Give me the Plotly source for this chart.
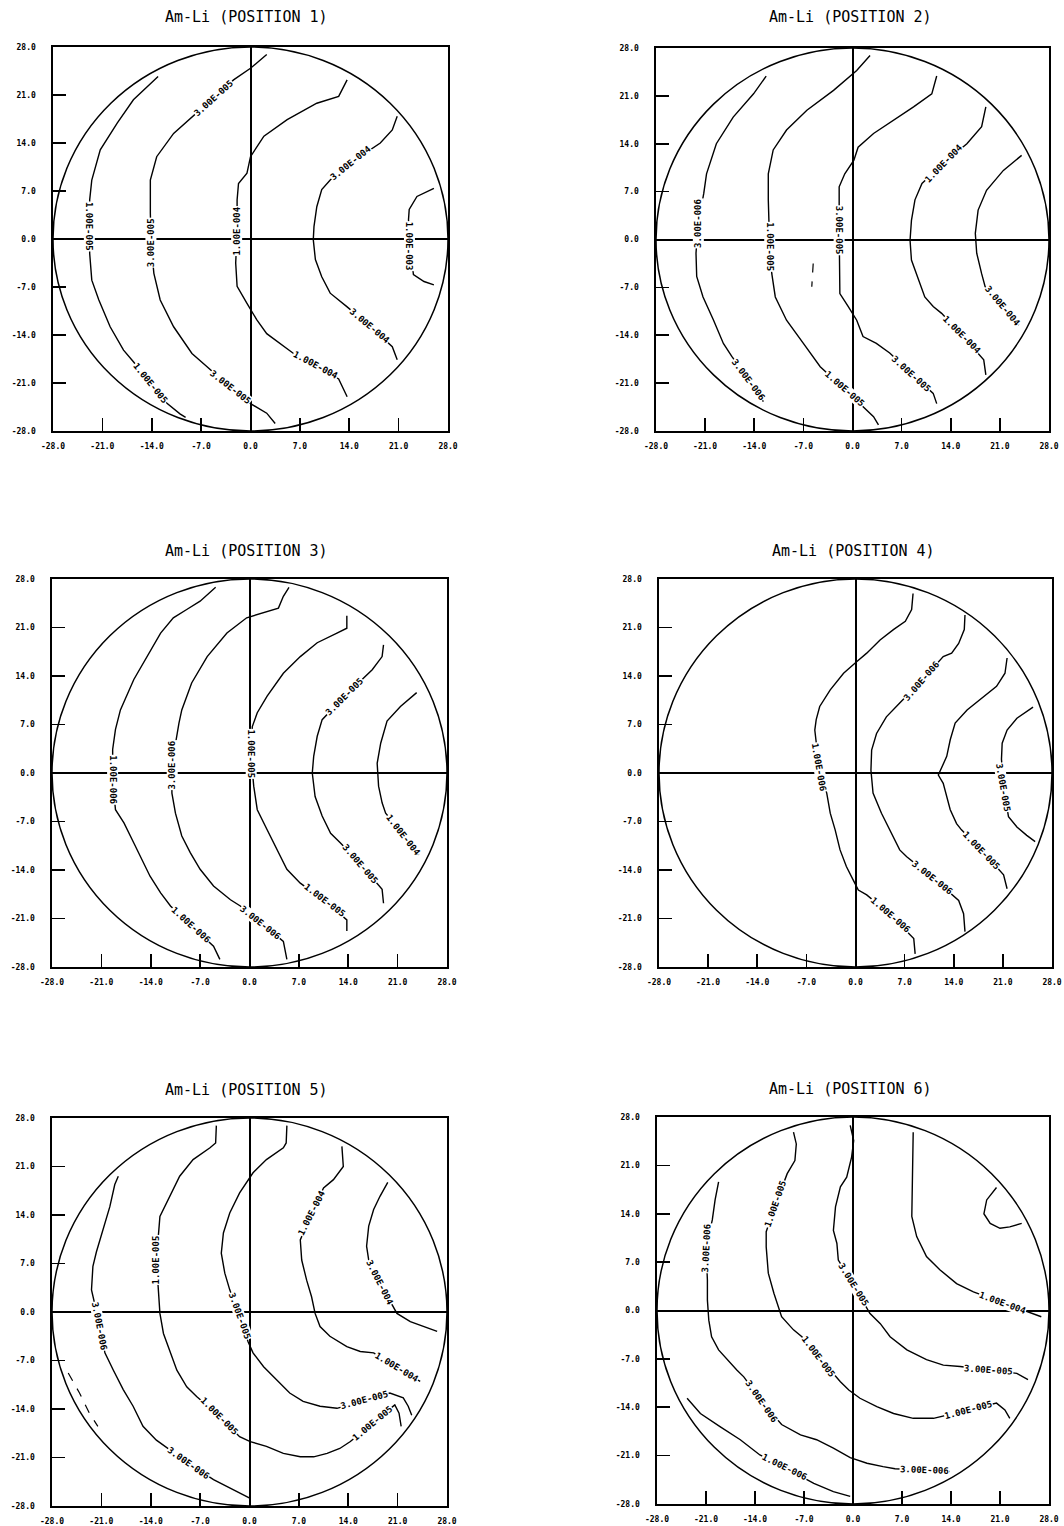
import plotly.graph_objects as go

W, H = 1064, 1526

# ---------------- tick values / labels ----------------
TICK_VALS = [-28, -21, -14, -7, 0, 7, 14, 21, 28]
TICK_TEXT = ['-28.0', '-21.0', '-14.0', '-7.0', '0.0', '7.0', '14.0', '21.0', '28.0']
TITLES = ['Am-Li (POSITION 1)', 'Am-Li (POSITION 2)', 'Am-Li (POSITION 3)',
          'Am-Li (POSITION 4)', 'Am-Li (POSITION 5)', 'Am-Li (POSITION 6)']

# ---------------- panel 1 ----------------
p1_a_x = [-13.1, -16.6, -18.9, -21.3, -22.5, -22.8, -22.8, -22.8, -22.5, -21.5, -19.9, -18.0, -16.6, -14.2, -11.8, -10.0, -9.2]
p1_a_y = [23.7, 20.3, 16.9, 13.0, 8.6, 5.7, 1.8, -2.1, -6.0, -8.9, -12.8, -16.2, -17.9, -21.0, -24.0, -25.5, -26.0]
p1_b_x = [2.3, 0.0, -2.4, -5.2, -8.1, -10.9, -13.3, -14.2, -14.2, -14.1, -13.7, -12.8, -10.9, -8.3, -6.2, -2.9, 0.0, 2.3, 3.5]
p1_b_y = [26.9, 24.9, 23.2, 20.6, 17.9, 15.4, 12.0, 8.6, 3.8, -0.6, -5.0, -8.9, -12.8, -16.7, -18.6, -21.6, -24.0, -25.4, -26.9]
p1_c_x = [13.7, 12.5, 9.4, 5.2, 1.9, 0.0, -0.5, -1.7, -1.9, -1.9, -2.1, -1.9, -0.5, 0.9, 2.3, 4.7, 6.1, 9.2, 12.5, 13.7]
p1_c_y = [23.2, 20.8, 19.8, 17.4, 15.0, 12.0, 9.6, 8.1, 5.7, 1.1, -3.5, -6.9, -9.4, -11.8, -13.8, -15.7, -16.7, -18.4, -20.4, -23.0]
p1_d_x = [20.8, 20.1, 18.4, 14.2, 11.3, 10.1, 9.4, 9.0, 8.9, 9.2, 10.1, 11.3, 13.7, 16.9, 20.1, 20.8]
p1_d_y = [17.9, 15.9, 14.0, 11.1, 8.6, 7.2, 4.7, 1.8, -0.1, -3.0, -5.5, -7.9, -9.9, -12.7, -15.7, -17.6]
p1_e_x = [26.0, 23.6, 22.5, 22.4, 22.6, 23.1, 24.6, 26.0]
p1_e_y = [7.4, 6.2, 4.3, 2.8, -1.1, -5.2, -6.2, -6.7]
p1_lab_text = ['1.00E-005', '1.00E-005', '3.00E-005', '3.00E-005', '3.00E-005',
               '1.00E-004', '1.00E-004', '3.00E-004', '3.00E-004', '1.00E-003']
p1_lab_x = [-22.8, -14.2, -5.2, -14.1, -2.9, -1.9, 9.2, 14.2, 16.9, 22.6]
p1_lab_y = [1.8, -21.0, 20.6, -0.6, -21.6, 1.1, -18.4, 11.1, -12.7, -1.1]
p1_lab_ang = [90, 51, -42, -90, 38, -90, 28, -39, 40, 90]

# ---------------- panel 2 ----------------
p2_a_x = [-12.3, -14.1, -17.0, -19.4, -20.8, -21.2, -22.0, -22.3, -22.2, -21.3, -19.8, -18.4, -17.2, -14.8, -12.7]
p2_a_y = [23.9, 21.3, 17.9, 14.0, 9.6, 6.7, 2.3, -2.0, -5.4, -8.4, -11.8, -15.2, -17.1, -20.5, -23.7]
p2_b_x = [2.5, 0.6, -2.7, -6.5, -9.4, -11.3, -12.0, -12.0, -11.8, -11.5, -11.0, -9.4, -7.0, -4.6, -1.1, 2.0, 3.0, 3.7]
p2_b_y = [26.9, 24.7, 21.8, 18.9, 16.0, 13.1, 9.6, 5.8, -1.1, -5.0, -8.4, -11.8, -15.2, -18.6, -21.9, -24.9, -25.9, -27.1]
p2_c_x = [12.0, 11.3, 8.7, 5.8, 3.0, 0.8, 0.2, -1.1, -1.9, -1.9, -1.9, -1.8, -0.6, 0.6, 1.5, 3.4, 5.3, 8.4, 11.5, 12.0]
p2_c_y = [23.9, 21.3, 19.4, 17.4, 15.5, 13.5, 11.6, 9.6, 7.7, 1.4, -3.5, -7.9, -9.8, -11.8, -14.2, -15.2, -16.6, -19.6, -22.5, -24.0]
p2_d_x = [19.0, 18.4, 16.3, 12.9, 9.9, 8.9, 8.4, 8.2, 8.4, 9.4, 10.3, 11.5, 12.7, 15.6, 18.7, 19.0]
p2_d_y = [19.4, 16.5, 14.0, 11.1, 8.2, 5.8, 2.8, -0.1, -3.0, -5.9, -8.4, -9.8, -10.8, -14.0, -17.6, -19.8]
p2_e_x = [24.1, 21.5, 19.1, 17.9, 17.5, 17.7, 18.4, 18.9, 21.4, 23.7]
p2_e_y = [12.3, 10.1, 7.2, 4.3, 0.9, -2.0, -5.0, -6.9, -9.7, -12.5]
p2_f_x = [-5.6, -5.8]
p2_f_y = [-3.5, -6.9]
p2_lab_text = ['3.00E-006', '3.00E-006', '1.00E-005', '1.00E-005', '3.00E-005',
               '3.00E-005', '1.00E-004', '1.00E-004', '3.00E-004']
p2_lab_x = [-22.0, -14.8, -11.8, -1.1, -1.9, 8.4, 12.9, 15.6, 21.4]
p2_lab_y = [2.3, -20.5, -1.1, -21.9, 1.4, -19.6, 11.1, -14.0, -9.7]
p2_lab_ang = [-90, 53, 90, 41, 90, 42, -46, 45, 50]

# ---------------- panel 3 ----------------
p3_a_x = [-4.8, -7.0, -8.9, -10.8, -12.6, -14.5, -16.4, -18.3, -19.0, -19.4, -19.4, -19.0, -17.8, -16.4, -15.5, -14.1, -12.6, -11.2, -8.3, -5.1, -4.2]
p3_a_y = [26.8, 24.8, 23.6, 22.4, 20.2, 16.8, 13.5, 9.1, 6.3, 3.4, -1.0, -5.3, -7.2, -10.1, -12.0, -14.9, -17.3, -19.2, -22.0, -25.0, -26.9]
p3_b_x = [5.6, 4.8, 4.1, 2.5, -0.4, -3.2, -6.0, -8.2, -9.6, -10.0, -11.0, -11.0, -10.5, -9.6, -8.4, -7.0, -5.1, -2.7, -1.3, 1.6, 4.8, 5.3]
p3_b_y = [26.8, 25.5, 23.8, 23.3, 22.4, 20.2, 16.8, 13.0, 9.1, 7.2, 1.2, -2.9, -5.8, -9.1, -11.5, -13.9, -16.3, -18.3, -19.2, -21.6, -24.3, -26.9]
p3_c_x = [13.8, 13.8, 12.4, 9.6, 7.2, 4.8, 2.5, 1.1, 0.4, 0.2, 0.6, 1.1, 2.5, 3.9, 5.3, 7.2, 10.6, 13.8, 13.8]
p3_c_y = [22.7, 20.9, 20.2, 18.8, 16.8, 14.4, 11.1, 8.7, 6.7, 2.7, -1.9, -5.3, -8.2, -11.1, -13.9, -15.9, -18.4, -21.2, -22.8]
p3_d_x = [19.0, 18.8, 17.4, 13.4, 10.3, 9.6, 9.1, 8.9, 9.3, 10.3, 11.5, 12.9, 15.7, 18.8, 19.0]
p3_d_y = [18.5, 16.8, 14.9, 11.0, 7.7, 5.3, 2.4, 0.0, -3.4, -6.2, -8.7, -10.1, -13.1, -16.8, -18.8]
p3_e_x = [23.7, 21.4, 19.5, 18.6, 18.1, 18.3, 18.8, 19.3, 21.8, 24.0]
p3_e_y = [11.6, 9.6, 7.5, 4.3, 1.4, -1.9, -4.3, -5.8, -8.9, -11.8]
p3_lab_text = ['1.00E-006', '1.00E-006', '3.00E-006', '3.00E-006', '1.00E-005',
               '1.00E-005', '3.00E-005', '3.00E-005', '1.00E-004']
p3_lab_x = [-19.4, -8.3, -11.0, 1.6, 0.2, 10.6, 13.4, 15.7, 21.8]
p3_lab_y = [-1.0, -22.0, 1.2, -21.6, 2.7, -18.4, 11.0, -13.1, -8.9]
p3_lab_ang = [90, 42, -90, 38, 90, 37, -45, 49, 52]

# ---------------- panel 4 ----------------
p4_a_x = [8.2, 8.0, 7.1, 5.4, 3.5, 1.6, 0.2, -1.7, -3.6, -5.1, -5.6, -5.8, -5.2, -4.1, -3.6, -2.9, -2.2, -1.3, -0.3, 0.4, 1.6, 5.0, 8.3, 8.5]
p4_a_y = [25.9, 23.6, 21.9, 20.7, 19.2, 17.3, 16.1, 14.4, 12.0, 9.6, 7.7, 6.2, 0.9, -2.9, -5.8, -8.2, -11.1, -13.5, -15.5, -16.9, -17.6, -20.5, -23.9, -26.1]
p4_b_x = [15.6, 15.5, 14.7, 13.7, 12.5, 9.4, 6.3, 4.4, 3.0, 2.3, 2.2, 2.5, 3.7, 4.9, 6.3, 7.3, 11.0, 14.7, 15.4, 15.6]
p4_b_y = [22.8, 20.7, 18.7, 17.3, 16.8, 13.3, 10.1, 8.1, 5.7, 3.3, 0.4, -2.9, -5.8, -8.2, -11.1, -12.1, -15.1, -18.4, -20.3, -22.9]
p4_c_x = [21.6, 21.3, 20.1, 18.2, 15.9, 14.2, 13.5, 13.0, 12.1, 11.8, 12.5, 13.0, 13.5, 14.4, 15.1, 18.0, 21.1, 21.6]
p4_c_y = [16.6, 14.4, 12.5, 11.0, 9.1, 7.2, 4.8, 2.4, 0.4, -0.3, -1.5, -3.4, -5.3, -7.3, -8.2, -11.2, -14.7, -16.7]
p4_d_x = [25.3, 23.0, 21.6, 20.9, 20.8, 21.1, 21.8, 23.0, 24.4, 25.6]
p4_d_y = [9.5, 7.9, 6.2, 4.3, 2.0, -2.1, -6.3, -7.8, -9.0, -9.9]
p4_lab_text = ['1.00E-006', '1.00E-006', '3.00E-006', '3.00E-006', '1.00E-005', '3.00E-005']
p4_lab_x = [-5.2, 5.0, 9.4, 11.0, 18.0, 21.1]
p4_lab_y = [0.9, -20.5, 13.3, -15.1, -11.2, -2.1]
p4_lab_ang = [80, 41, -49, 38, 46, 80]

# ---------------- panel 5 ----------------
p5_a_x = [-18.6, -19.1, -19.8, -20.8, -21.7, -22.2, -22.4, -21.2, -20.5, -19.3, -17.9, -16.5, -15.1, -13.2, -12.0, -8.7, -5.1, -2.3, 0.1]
p5_a_y = [19.6, 18.4, 15.2, 11.9, 8.7, 6.6, 3.2, -2.1, -5.9, -8.4, -11.2, -13.6, -16.5, -18.5, -19.4, -21.8, -24.2, -25.7, -26.9]
p5_b_x = [-4.7, -4.8, -5.6, -8.0, -9.9, -11.3, -12.7, -13.2, -12.9, -12.7, -12.2, -11.1, -10.3, -8.9, -7.5, -4.3, -1.4, 0.1, 2.4, 4.8, 7.2, 9.1, 11.0, 12.8, 14.3, 17.5, 20.6, 21.2, 21.5]
p5_b_y = [26.9, 24.4, 23.7, 22.0, 19.6, 16.7, 13.8, 7.5, 3.2, -0.2, -3.1, -6.0, -8.4, -10.8, -12.2, -15.0, -18.0, -18.7, -19.4, -20.4, -20.9, -20.9, -20.4, -19.7, -18.7, -16.0, -13.4, -14.6, -16.5]
p5_c_x = [5.3, 5.2, 4.8, 2.4, 0.5, -1.4, -2.8, -3.7, -4.0, -3.5, -2.8, -1.4, -0.2, 0.5, 2.0, 3.9, 5.7, 7.6, 10.0, 12.4, 16.3, 19.9, 21.8, 22.5, 23.0]
p5_c_y = [26.9, 24.4, 23.7, 22.0, 20.1, 17.2, 14.3, 11.4, 8.5, 5.6, 3.2, -0.6, -4.3, -5.9, -7.9, -9.8, -11.7, -12.9, -13.6, -13.9, -12.7, -11.7, -12.4, -13.6, -14.9]
p5_d_x = [13.1, 13.3, 11.9, 10.5, 8.8, 7.2, 7.4, 8.1, 8.8, 9.3, 10.0, 11.4, 13.8, 15.7, 17.6, 20.8, 24.2]
p5_d_y = [23.9, 21.0, 19.1, 17.9, 14.3, 10.4, 7.5, 4.6, 2.2, -0.2, -2.1, -3.5, -5.0, -5.7, -5.9, -8.0, -10.0]
p5_e_x = [19.6, 18.5, 17.6, 16.9, 16.6, 16.9, 18.5, 20.9, 22.8, 24.7, 26.6]
p5_e_y = [18.7, 16.7, 14.8, 12.4, 9.5, 7.5, 4.2, -0.2, -1.4, -2.1, -2.8]
p5_f_x = [-25.7, -24.1, -22.7, -21.5]
p5_f_y = [-8.8, -11.7, -14.6, -16.5]
p5_lab_text = ['3.00E-006', '3.00E-006', '1.00E-005', '1.00E-005', '1.00E-005',
               '3.00E-005', '3.00E-005', '1.00E-004', '1.00E-004', '3.00E-004']
p5_lab_x = [-21.2, -8.7, -13.2, -4.3, 17.5, -1.4, 16.3, 8.8, 20.8, 18.5]
p5_lab_y = [-2.1, -21.8, 7.5, -15.0, -16.0, -0.6, -12.7, 14.3, -8.0, 4.2]
p5_lab_ang = [79, 35, -90, 45, -40, 70, -15, -63, 31, 63]

# ---------------- panel 6 ----------------
p6_a_x = [-23.7, -21.8, -19.0, -16.1, -13.3, -9.8, -5.6, -2.8, -0.4]
p6_a_y = [-12.7, -14.9, -16.8, -18.7, -20.9, -22.7, -25.0, -26.2, -26.9]
p6_b_x = [-19.2, -19.7, -20.1, -21.0, -20.8, -20.8, -20.6, -20.2, -19.2, -18.0, -16.6, -15.6, -13.0, -10.2, -7.5, -5.2, -2.8, -0.4, 2.0, 4.3, 6.0, 10.2, 13.8]
p6_b_y = [18.6, 16.0, 13.1, 9.1, 4.4, 1.5, -1.4, -3.8, -5.7, -7.1, -8.6, -9.6, -13.2, -16.5, -18.0, -18.7, -19.9, -21.3, -22.1, -22.6, -22.9, -23.1, -23.3]
p6_c_x = [-8.5, -8.1, -8.3, -9.4, -11.0, -12.4, -12.4, -12.1, -11.3, -10.2, -8.5, -7.3, -4.9, -1.8, -0.6, 1.0, 3.4, 5.8, 8.6, 11.5, 16.5, 20.5, 21.7, 22.4]
p6_c_y = [25.8, 24.1, 21.7, 19.8, 15.5, 11.4, 9.2, 5.4, 2.5, -0.9, -2.8, -3.8, -6.7, -10.3, -11.5, -12.7, -13.9, -14.9, -15.6, -15.6, -14.4, -13.4, -14.4, -15.6]
p6_d_x = [-0.4, 0.1, -0.2, -0.9, -1.8, -2.5, -2.8, -2.3, -2.1, 0.1, 2.4, 3.9, 5.3, 7.7, 10.5, 12.9, 15.3, 19.3, 23.4, 25.0]
p6_d_y = [26.8, 24.6, 22.2, 19.3, 17.9, 15.0, 11.6, 9.7, 7.3, 3.7, -0.4, -1.9, -3.8, -5.7, -7.1, -7.9, -8.1, -8.6, -9.1, -10.0]
p6_e_x = [8.6, 8.5, 8.4, 8.4, 9.1, 10.5, 12.4, 14.8, 17.2, 21.4, 25.3, 26.9]
p6_e_y = [25.8, 21.7, 16.9, 13.6, 10.7, 7.8, 5.9, 3.9, 2.7, 1.1, -0.4, -0.9]
p6_f_x = [20.5, 19.1, 18.7, 19.6, 21.0, 22.4, 24.1]
p6_f_y = [17.8, 16.0, 14.0, 12.6, 11.9, 12.1, 12.6]
p6_lab_text = ['1.00E-006', '3.00E-006', '3.00E-006', '3.00E-006', '1.00E-005',
               '1.00E-005', '1.00E-005', '3.00E-005', '3.00E-005', '1.00E-004']
p6_lab_x = [-9.8, -21.0, -13.0, 10.2, -11.0, -4.9, 16.5, 0.1, 19.3, 21.4]
p6_lab_y = [-22.7, 9.1, -13.2, -23.1, 15.5, -6.7, -14.4, 3.7, -8.6, 1.1]
p6_lab_ang = [26, -87, 55, 2, -71, 53, -15, 58, 4, 20]

# ---------------- assemble ----------------
panels = [
    dict(solid=[(p1_a_x, p1_a_y), (p1_b_x, p1_b_y), (p1_c_x, p1_c_y), (p1_d_x, p1_d_y), (p1_e_x, p1_e_y)],
         dotted=[], lab=(p1_lab_text, p1_lab_x, p1_lab_y, p1_lab_ang)),
    dict(solid=[(p2_a_x, p2_a_y), (p2_b_x, p2_b_y), (p2_c_x, p2_c_y), (p2_d_x, p2_d_y), (p2_e_x, p2_e_y)],
         dotted=[(p2_f_x, p2_f_y)], lab=(p2_lab_text, p2_lab_x, p2_lab_y, p2_lab_ang)),
    dict(solid=[(p3_a_x, p3_a_y), (p3_b_x, p3_b_y), (p3_c_x, p3_c_y), (p3_d_x, p3_d_y), (p3_e_x, p3_e_y)],
         dotted=[], lab=(p3_lab_text, p3_lab_x, p3_lab_y, p3_lab_ang)),
    dict(solid=[(p4_a_x, p4_a_y), (p4_b_x, p4_b_y), (p4_c_x, p4_c_y), (p4_d_x, p4_d_y)],
         dotted=[], lab=(p4_lab_text, p4_lab_x, p4_lab_y, p4_lab_ang)),
    dict(solid=[(p5_a_x, p5_a_y), (p5_b_x, p5_b_y), (p5_c_x, p5_c_y), (p5_d_x, p5_d_y), (p5_e_x, p5_e_y)],
         dotted=[(p5_f_x, p5_f_y)], lab=(p5_lab_text, p5_lab_x, p5_lab_y, p5_lab_ang)),
    dict(solid=[(p6_a_x, p6_a_y), (p6_b_x, p6_b_y), (p6_c_x, p6_c_y), (p6_d_x, p6_d_y), (p6_e_x, p6_e_y), (p6_f_x, p6_f_y)],
         dotted=[], lab=(p6_lab_text, p6_lab_x, p6_lab_y, p6_lab_ang)),
]

# plot-area boxes in pixels: (left, right, top, bottom)
BOXES = [(53, 448, 47, 431), (656, 1049, 48, 431),
         (52, 447, 579, 967), (659, 1052, 579, 967),
         (52, 447, 1118, 1506), (657, 1049, 1117, 1504)]
TITLE_POS = [(246, 17), (850, 17), (246, 551), (853, 551), (246, 1090), (850, 1089)]

fig = go.Figure()
layout = dict(width=W, height=H, margin=dict(l=0, r=0, t=0, b=0, autoexpand=False),
              paper_bgcolor='white', plot_bgcolor='white', showlegend=False)
annotations = []
shapes = []
MONO = 'DejaVu Sans Mono'

for i, (p, box) in enumerate(zip(panels, BOXES)):
    n = i + 1
    xa, ya = ('x' if n == 1 else f'x{n}'), ('y' if n == 1 else f'y{n}')
    l, r, t, b = box
    common = dict(range=[-28, 28], tickmode='array', tickvals=TICK_VALS, ticktext=TICK_TEXT,
                  ticks='inside', ticklen=13, tickwidth=1.6, tickcolor='black',
                  showline=True, mirror=True, linecolor='black', linewidth=1.6,
                  showgrid=False, zeroline=True, zerolinecolor='black', zerolinewidth=2,
                  tickfont=dict(family=MONO, size=8, color='black', weight='bold'),
                  fixedrange=True, automargin=False)
    layout['xaxis' if n == 1 else f'xaxis{n}'] = dict(common, domain=[l / W, r / W], anchor=ya,
                                                       ticklabelstandoff=7)
    layout['yaxis' if n == 1 else f'yaxis{n}'] = dict(common, domain=[1 - b / H, 1 - t / H], anchor=xa,
                                                       ticklabelstandoff=14)
    for (xs, ys) in p['solid']:
        fig.add_trace(go.Scatter(x=xs, y=ys, mode='lines', xaxis=xa, yaxis=ya,
                                 line=dict(color='black', width=1.4), hoverinfo='skip'))
    for (xs, ys) in p['dotted']:
        fig.add_trace(go.Scatter(x=xs, y=ys, mode='lines', xaxis=xa, yaxis=ya,
                                 line=dict(color='black', width=1.2, dash='dash'), hoverinfo='skip'))
    shapes.append(dict(type='circle', xref=xa, yref=ya, x0=-28, x1=28, y0=-28, y1=28,
                       line=dict(color='black', width=1.5), layer='above'))
    texts, lx, ly, la = p['lab']
    for tx, x, y, a in zip(texts, lx, ly, la):
        annotations.append(dict(text=tx, x=x, y=y, xref=xa, yref=ya, showarrow=False,
                                textangle=a, bgcolor='white', borderpad=0,
                                font=dict(family=MONO, size=9, color='black', weight='bold')))
    tx, ty = TITLE_POS[i]
    annotations.append(dict(text=TITLES[i], x=tx / W, y=1 - ty / H, xref='paper', yref='paper',
                            showarrow=False, xanchor='center', yanchor='middle',
                            font=dict(family=MONO, size=15, color='black')))

layout['annotations'] = annotations
layout['shapes'] = shapes
fig.update_layout(**layout)
fig.write_html('out.html', config={'displayModeBar': False, 'staticPlot': True},
               post_script="document.body.style.margin='0';document.body.style.overflow='hidden';")
